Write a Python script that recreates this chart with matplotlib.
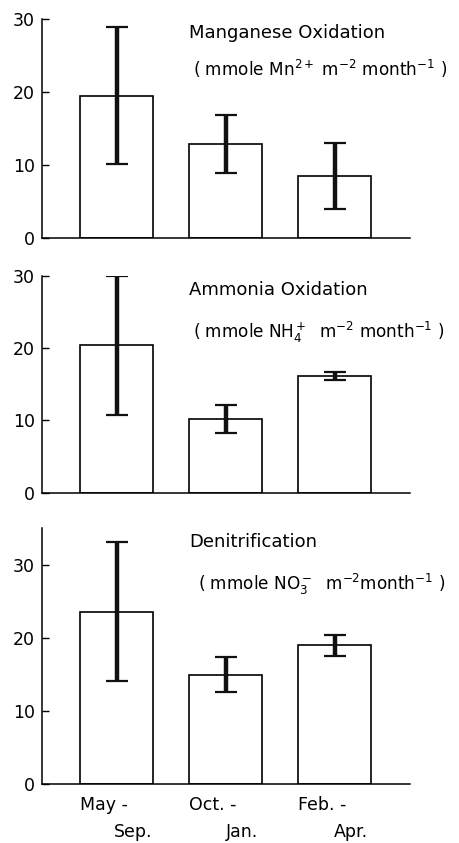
import matplotlib.pyplot as plt
import matplotlib.transforms as mtransforms
import numpy as np

plt.rcParams['font.family'] = ['DejaVu Sans']

periods_start = ["May -", "Oct. -", "Feb. -"]
periods_end = ["Sep.", "Jan.", "Apr."]

mn_ox = [19.5, 12.9, 8.5]
mn_err = [9.4, 4.0, 4.5]
nh4_ox = [20.4, 10.2, 16.2]
nh4_err = [9.6, 2.0, 0.55]
denit = [23.6, 15.0, 19.0]
denit_err = [9.5, 2.4, 1.45]

titles = ["Manganese Oxidation", "Ammonia Oxidation", "Denitrification"]
units = [r"( mmole Mn$^{2+}$ m$^{-2}$ month$^{-1}$ )",
         r"( mmole NH$_4^+$  m$^{-2}$ month$^{-1}$ )",
         r"( mmole NO$_3^-$  m$^{-2}$month$^{-1}$ )"]

boxes = [[0.0913, 0.7173, 0.80, 0.2602],
         [0.0913, 0.4155, 0.80, 0.2571],
         [0.0913, 0.0696, 0.80, 0.3037]]
ylims = [30, 30, 35]
title_y = [0.936, 0.935, 0.946]
unit_y = [0.77, 0.74, 0.78]
unit_x = [0.41, 0.41, 0.425]

fig = plt.figure(figsize=(4.6, 8.43), dpi=100)
x = np.arange(3)
for i, (vals, errs) in enumerate([(mn_ox, mn_err), (nh4_ox, nh4_err), (denit, denit_err)]):
    ax = fig.add_axes(boxes[i])
    ax.bar(x, vals, width=0.67, color='white', edgecolor='black', linewidth=1.2)
    ax.errorbar(x, vals, yerr=errs, fmt='none', ecolor='#111111',
                elinewidth=3.2, capsize=8, capthick=1.6)
    ax.set_xlim(-0.684, 2.688)
    ax.set_ylim(0, ylims[i])
    ax.set_yticks([0, 10, 20, 30])
    ax.set_xticks([])
    ax.spines['top'].set_visible(False)
    ax.spines['right'].set_visible(False)
    ax.spines['left'].set_linewidth(1.1)
    ax.spines['bottom'].set_linewidth(1.1)
    ax.tick_params(axis='y', direction='in', length=5, width=1.0,
                   labelsize=12.5, pad=5)
    ax.text(0.40, title_y[i], titles[i], transform=ax.transAxes,
            fontsize=13, va='center', ha='left')
    ax.text(unit_x[i], unit_y[i], units[i], transform=ax.transAxes,
            fontsize=12.2, va='center', ha='left')
    if i == 2:
        trans = mtransforms.blended_transform_factory(ax.transData, ax.transAxes)
        for xi, a, b in zip(x, periods_start, periods_end):
            ax.text(xi - 0.12, -0.081, a, transform=trans, fontsize=12.5,
                    ha='center', va='center')
            ax.text(xi + 0.15, -0.186, b, transform=trans, fontsize=12.5,
                    ha='center', va='center')

fig.savefig("out.png", dpi=100)
